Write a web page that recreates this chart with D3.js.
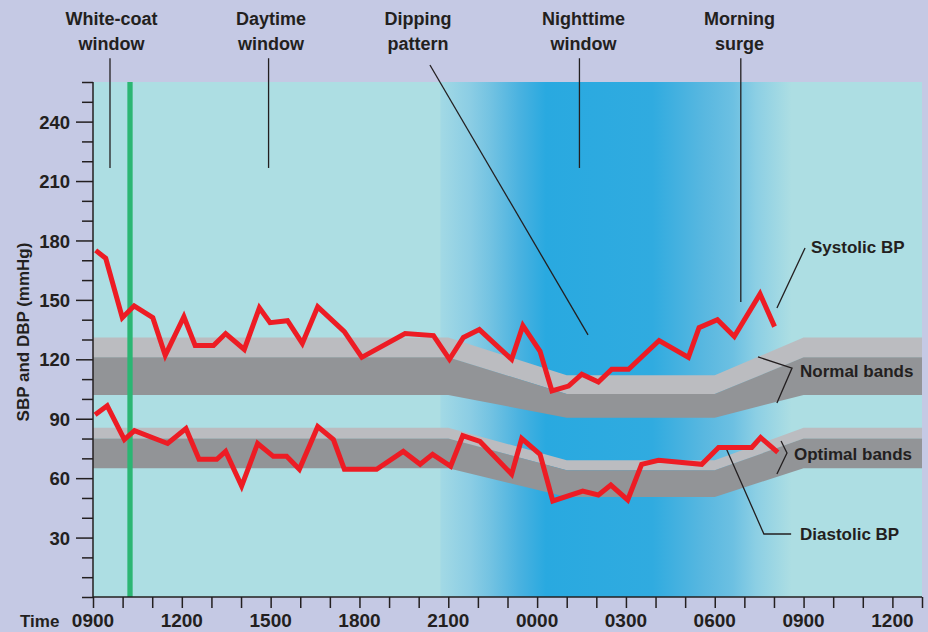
<!DOCTYPE html>
<html><head><meta charset="utf-8">
<script src="https://cdn.jsdelivr.net/npm/d3@7"></script>
<style>
html,body{margin:0;padding:0;background:#c5c9e4;}
svg text{font-family:"Liberation Sans",Arial,sans-serif;font-weight:bold;fill:#231f20;}
</style></head>
<body>
<svg id="chart" width="928" height="632"></svg>
<script>
// ---- data (hours after 09:00, mmHg) ----
const sbpHours = [0.09,0.43,0.99,1.39,2.02,2.44,3.07,3.45,4.07,4.48,5.11,5.62,5.98,6.57,7.07,7.59,8.49,9.08,10.54,11.5,12.04,12.51,13.05,14.14,14.52,15.1,15.5,16.06,16.51,17.07,17.52,18.09,19.12,20.11,20.47,21.09,21.66,22.53,23.02];
const sbpValues = [175,171,141,147,141,122,141.5,127,127,133,125,146,138.5,139.5,128,146.5,134,121,133,132,120,131,135,120,137,124,104,106.5,112.5,108.5,115,115,129.5,121,136,140,131.5,153,136.5];
const dbpHours = [0.07,0.48,1.06,1.4,2.52,3.14,3.58,4.18,4.48,5.02,5.56,6.09,6.54,6.97,7.59,8.12,8.49,9.58,10.48,11.05,11.47,12.08,12.49,13.07,14.14,14.48,15.1,15.53,16.54,17.07,17.49,18.06,18.53,19.1,20.56,21.13,22.25,22.55,23.13];
const dbpValues = [92,96.5,79.5,84,77.5,85,69.5,69.5,73.5,56,77.5,71,71,64.5,86,79.5,64.5,64.5,73.5,67,72,66,81.5,78.5,62,80,72,48.5,53.5,51.5,56.5,49,67,69,67,75.5,75.5,80.5,73];

const bandHours = [0,12,16,21,24,28];
const normalUpper = [131,131,112,112,131,131];
const normalMid   = [121,121,102.5,102.5,121,121];
const normalLower = [102,102,90.5,90.5,102,102];
const optimalUpper = [85.5,85.5,69,69,85.5,85.5];
const optimalMid   = [80,80,64,64,80,80];
const optimalLower = [65,65,50.5,50.5,65,65];

const whiteCoatHour = 1.25;
const shadeHours  = [11.72,11.75,12.75,13.4,14.4,15.3,18.9,20.6,21.6,22.4,23.6];
const shadeColors = ["#addee3","#a2d9e5","#8bcde4","#74c3e2","#4ab2e0","#29a9e0","#30abe0","#58b7e0","#6cc0e2","#8ccfe4","#addee3"];

const xTickHours = d3.range(0,29,1);
const xLabelHours = [0,3,6,9,12,15,18,21,24,27];
const xLabels = ["0900","1200","1500","1800","2100","0000","0300","0600","0900","1200"];
const yMinorTicks = d3.range(0,261,10);
const yMajorTicks = [30,60,90,120,150,180,210,240];

// ---- layout ----
const svg = d3.select("#chart");
const L=93, R=922, T=82, B=597;
const x = d3.scaleLinear().domain([0,28]).range([L,R]);
const y = d3.scaleLinear().domain([0,260]).range([B,T]);
const ink = "#231f20";

svg.append("rect").attr("width",928).attr("height",632).attr("fill","#c5c9e4");
svg.append("rect").attr("x",L).attr("y",T).attr("width",R-L).attr("height",B-T).attr("fill","#addee3");

// night shading
const defs = svg.append("defs");
const g0 = x(shadeHours[0]), g1 = x(shadeHours[shadeHours.length-1]);
const grad = defs.append("linearGradient").attr("id","night").attr("gradientUnits","userSpaceOnUse")
  .attr("x1",g0).attr("x2",g1).attr("y1",0).attr("y2",0);
shadeHours.forEach((h,i)=>grad.append("stop").attr("offset",(x(h)-g0)/(g1-g0)).attr("stop-color",shadeColors[i]));
svg.append("rect").attr("x",g0).attr("y",T).attr("width",g1-g0).attr("height",B-T).attr("fill","url(#night)");

// bands
function band(upper, lower, color){
  const a = d3.area().x((d,i)=>x(bandHours[i])).y0((d,i)=>y(lower[i])).y1((d,i)=>y(upper[i]));
  svg.append("path").attr("d",a(bandHours)).attr("fill",color);
}
band(normalUpper, normalMid, "#bbbcc0");
band(normalMid, normalLower, "#929497");
band(optimalUpper, optimalMid, "#bbbcc0");
band(optimalMid, optimalLower, "#929497");

// white-coat marker
svg.append("line").attr("x1",x(whiteCoatHour)).attr("x2",x(whiteCoatHour)).attr("y1",T).attr("y2",B)
  .attr("stroke","#2bb673").attr("stroke-width",5.3);

// annotation leaders (in data units)
const leaders = [
  [[0.574,272],[0.574,216.6]],
  [[5.93,272],[5.93,216.6]],
  [[16.43,272],[16.43,216.6]],
  [[21.88,272],[21.88,148.9]],
  [[11.38,268.6],[16.72,132.3]],
  [[24.05,176.2],[23.1,145.9]],
  [[22.46,121.2],[23.61,115.6],[23.1,97.9]],
  [[23.24,78.8],[23.44,72.7],[23.1,62.1]],
  [[21.38,75.2],[22.66,31.8],[23.58,31.8]]
];
const ll = d3.line().x(d=>x(d[0])).y(d=>y(d[1]));
leaders.forEach(p=>svg.append("path").attr("d",ll(p)).attr("fill","none").attr("stroke",ink).attr("stroke-width",1.3));

// BP lines
const line = d3.line().x(d=>x(d[0])).y(d=>y(d[1]));
[[sbpHours,sbpValues],[dbpHours,dbpValues]].forEach(([hs,vs])=>{
  svg.append("path").attr("d",line(hs.map((h,i)=>[h,vs[i]])))
    .attr("fill","none").attr("stroke","#ed1c24").attr("stroke-width",5).attr("stroke-linejoin","miter").attr("stroke-miterlimit",4);
});

// axes
const yMinor = d3.axisLeft(y).tickValues(yMinorTicks.filter(v=>!yMajorTicks.includes(v))).tickSize(11).tickFormat("");
const yMajor = d3.axisLeft(y).tickValues(yMajorTicks).tickSize(17).tickPadding(6).tickFormat(d3.format("d"));
const gy1 = svg.append("g").attr("transform",`translate(${L},0)`).call(yMinor);
const gy2 = svg.append("g").attr("transform",`translate(${L},0)`).call(yMajor);
[gy1,gy2].forEach(g=>{g.select(".domain").remove(); g.selectAll("line").attr("stroke",ink).attr("stroke-width",1.5);});
gy2.selectAll("text").attr("fill",ink).style("font-size","18.5px").attr("dy","0.36em");

const xAxis = d3.axisBottom(x).tickValues(xTickHours).tickSize(11).tickFormat("");
const gx = svg.append("g").attr("transform",`translate(0,${B})`).call(xAxis);
gx.select(".domain").remove();
gx.selectAll("line").attr("stroke",ink).attr("stroke-width",1.5);
svg.append("g").selectAll("text").data(xLabelHours).join("text")
  .attr("x",d=>x(d)).attr("y",627).attr("text-anchor","middle").style("font-size","19px")
  .text((d,i)=>xLabels[i]);
svg.append("text").attr("x",20).attr("y",627).style("font-size","17px").text("Time");

svg.append("line").attr("x1",L).attr("x2",L).attr("y1",T).attr("y2",B+0.75).attr("stroke",ink).attr("stroke-width",1.5);
svg.append("line").attr("x1",L).attr("x2",R).attr("y1",B).attr("y2",B).attr("stroke",ink).attr("stroke-width",1.5);

svg.append("text").attr("transform","translate(29,332) rotate(-90)").attr("text-anchor","middle")
  .style("font-size","17px").text("SBP and DBP (mmHg)");

// top annotations
const topNotes = [
  [111.5,["White-coat","window"]],
  [271,["Daytime","window"]],
  [418,["Dipping","pattern"]],
  [583.5,["Nighttime","window"]],
  [739.5,["Morning","surge"]]
];
topNotes.forEach(([cx,lines])=>{
  lines.forEach((t,i)=>svg.append("text").attr("x",cx).attr("y",25+i*25).attr("text-anchor","middle")
    .style("font-size","18px").text(t));
});
const sideNotes = [[811,253,"Systolic BP"],[800,377,"Normal bands"],[794,460,"Optimal bands"],[800,540,"Diastolic BP"]];
sideNotes.forEach(([sx,sy,t])=>svg.append("text").attr("x",sx).attr("y",sy).style("font-size","17px").text(t));
</script>
</body></html>
